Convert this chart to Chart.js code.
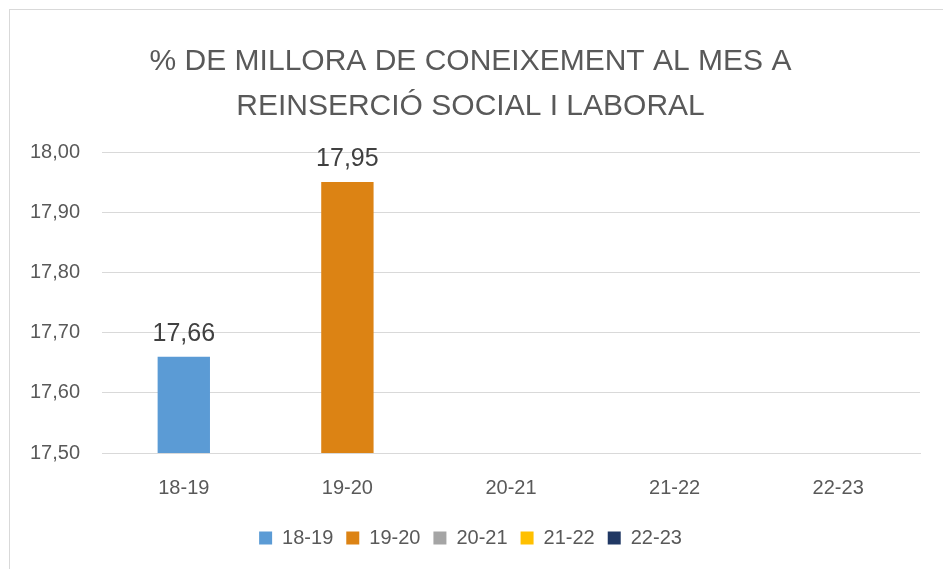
<!DOCTYPE html>
<html>
<head>
<meta charset="utf-8">
<script src="https://cdn.jsdelivr.net/npm/chart.js@4"></script>
<style>
  html, body { margin: 0; padding: 0; background: #fff; overflow: hidden; }
  #box {
    position: absolute; left: 9px; top: 9px;
    width: 940px; height: 570px;
    border: 1px solid #d9d9d9;
    box-sizing: border-box;
  }
  #wrap { position: absolute; left: 9px; top: 9px; width: 934px; height: 560px; }
</style>
</head>
<body>
<div id="box"></div>
<div id="wrap"><canvas id="myChart"></canvas></div>
<script>
const categories = ["18-19", "19-20", "20-21", "21-22", "22-23"];
const seriesNames = ["18-19", "19-20", "20-21", "21-22", "22-23"];
const seriesValues = [17.66, 17.95, null, null, null];
const seriesColors = ["#5b9bd5", "#dc8314", "#a5a5a5", "#ffc000", "#203864"];
const yTicks = [17.5, 17.6, 17.7, 17.8, 17.9, 18.0];
const titleLines = ["% DE MILLORA DE CONEIXEMENT AL MES A", "REINSERCIÓ SOCIAL I LABORAL"];

const fmt = (v) => v.toFixed(2).replace(".", ",");
const font = "'Liberation Sans', sans-serif";

// each series only has a value at its own category
const datasets = seriesNames.map((name, i) => ({
  label: name,
  data: categories.map((c, j) => (j === i ? seriesValues[i] : null)),
  backgroundColor: seriesColors[i],
  borderWidth: 0,
}));

const valueLabels = {
  id: "valueLabels",
  afterDatasetsDraw(chart) {
    const ctx = chart.ctx;
    ctx.save();
    ctx.font = "25px " + font;
    ctx.fillStyle = "#404040";
    ctx.textAlign = "center";
    ctx.textBaseline = "bottom";
    chart.data.datasets.forEach((ds, i) => {
      const meta = chart.getDatasetMeta(i);
      meta.data.forEach((bar, j) => {
        const v = ds.data[j];
        if (v == null) return;
        ctx.fillText(fmt(v), bar.x, bar.y - 10);
      });
    });
    ctx.restore();
  },
};

const ctx = document.getElementById("myChart").getContext("2d");
const myChart = new Chart(ctx, {
  type: "bar",
  data: { labels: categories, datasets: datasets },
  options: {
    responsive: true,
    maintainAspectRatio: false,
    animation: false,
    skipNull: true,
    datasets: { bar: { categoryPercentage: 1, barPercentage: 0.32 } },
    layout: { padding: { top: 12, right: 23, bottom: 11, left: 12 } },
    plugins: {
      title: {
        display: true,
        text: titleLines,
        color: "#595959",
        font: { family: font, size: 30, weight: "normal", lineHeight: 1.5 },
        padding: { top: 18, bottom: 23 },
      },
      legend: {
        position: "bottom",
        labels: {
          boxWidth: 13,
          boxHeight: 13,
          padding: 13,
          color: "#595959",
          font: { family: font, size: 20 },
        },
      },
      tooltip: { enabled: false },
    },
    scales: {
      x: {
        grid: { display: false },
        border: { color: "#d9d9d9" },
        ticks: { color: "#595959", font: { family: font, size: 20 }, padding: 15 },
      },
      y: {
        min: 17.5,
        max: 18.0,
        afterBuildTicks: (scale) => { scale.ticks = yTicks.map((v) => ({ value: v })); },
        afterFit: (scale) => { scale.width = 102 - 9 - 12; },
        grid: { color: "#d9d9d9", drawTicks: false },
        border: { display: false },
        ticks: {
          color: "#595959",
          font: { family: font, size: 20 },
          padding: 22,
          callback: (v) => fmt(v),
        },
      },
    },
  },
  plugins: [valueLabels],
});
</script>
</body>
</html>
